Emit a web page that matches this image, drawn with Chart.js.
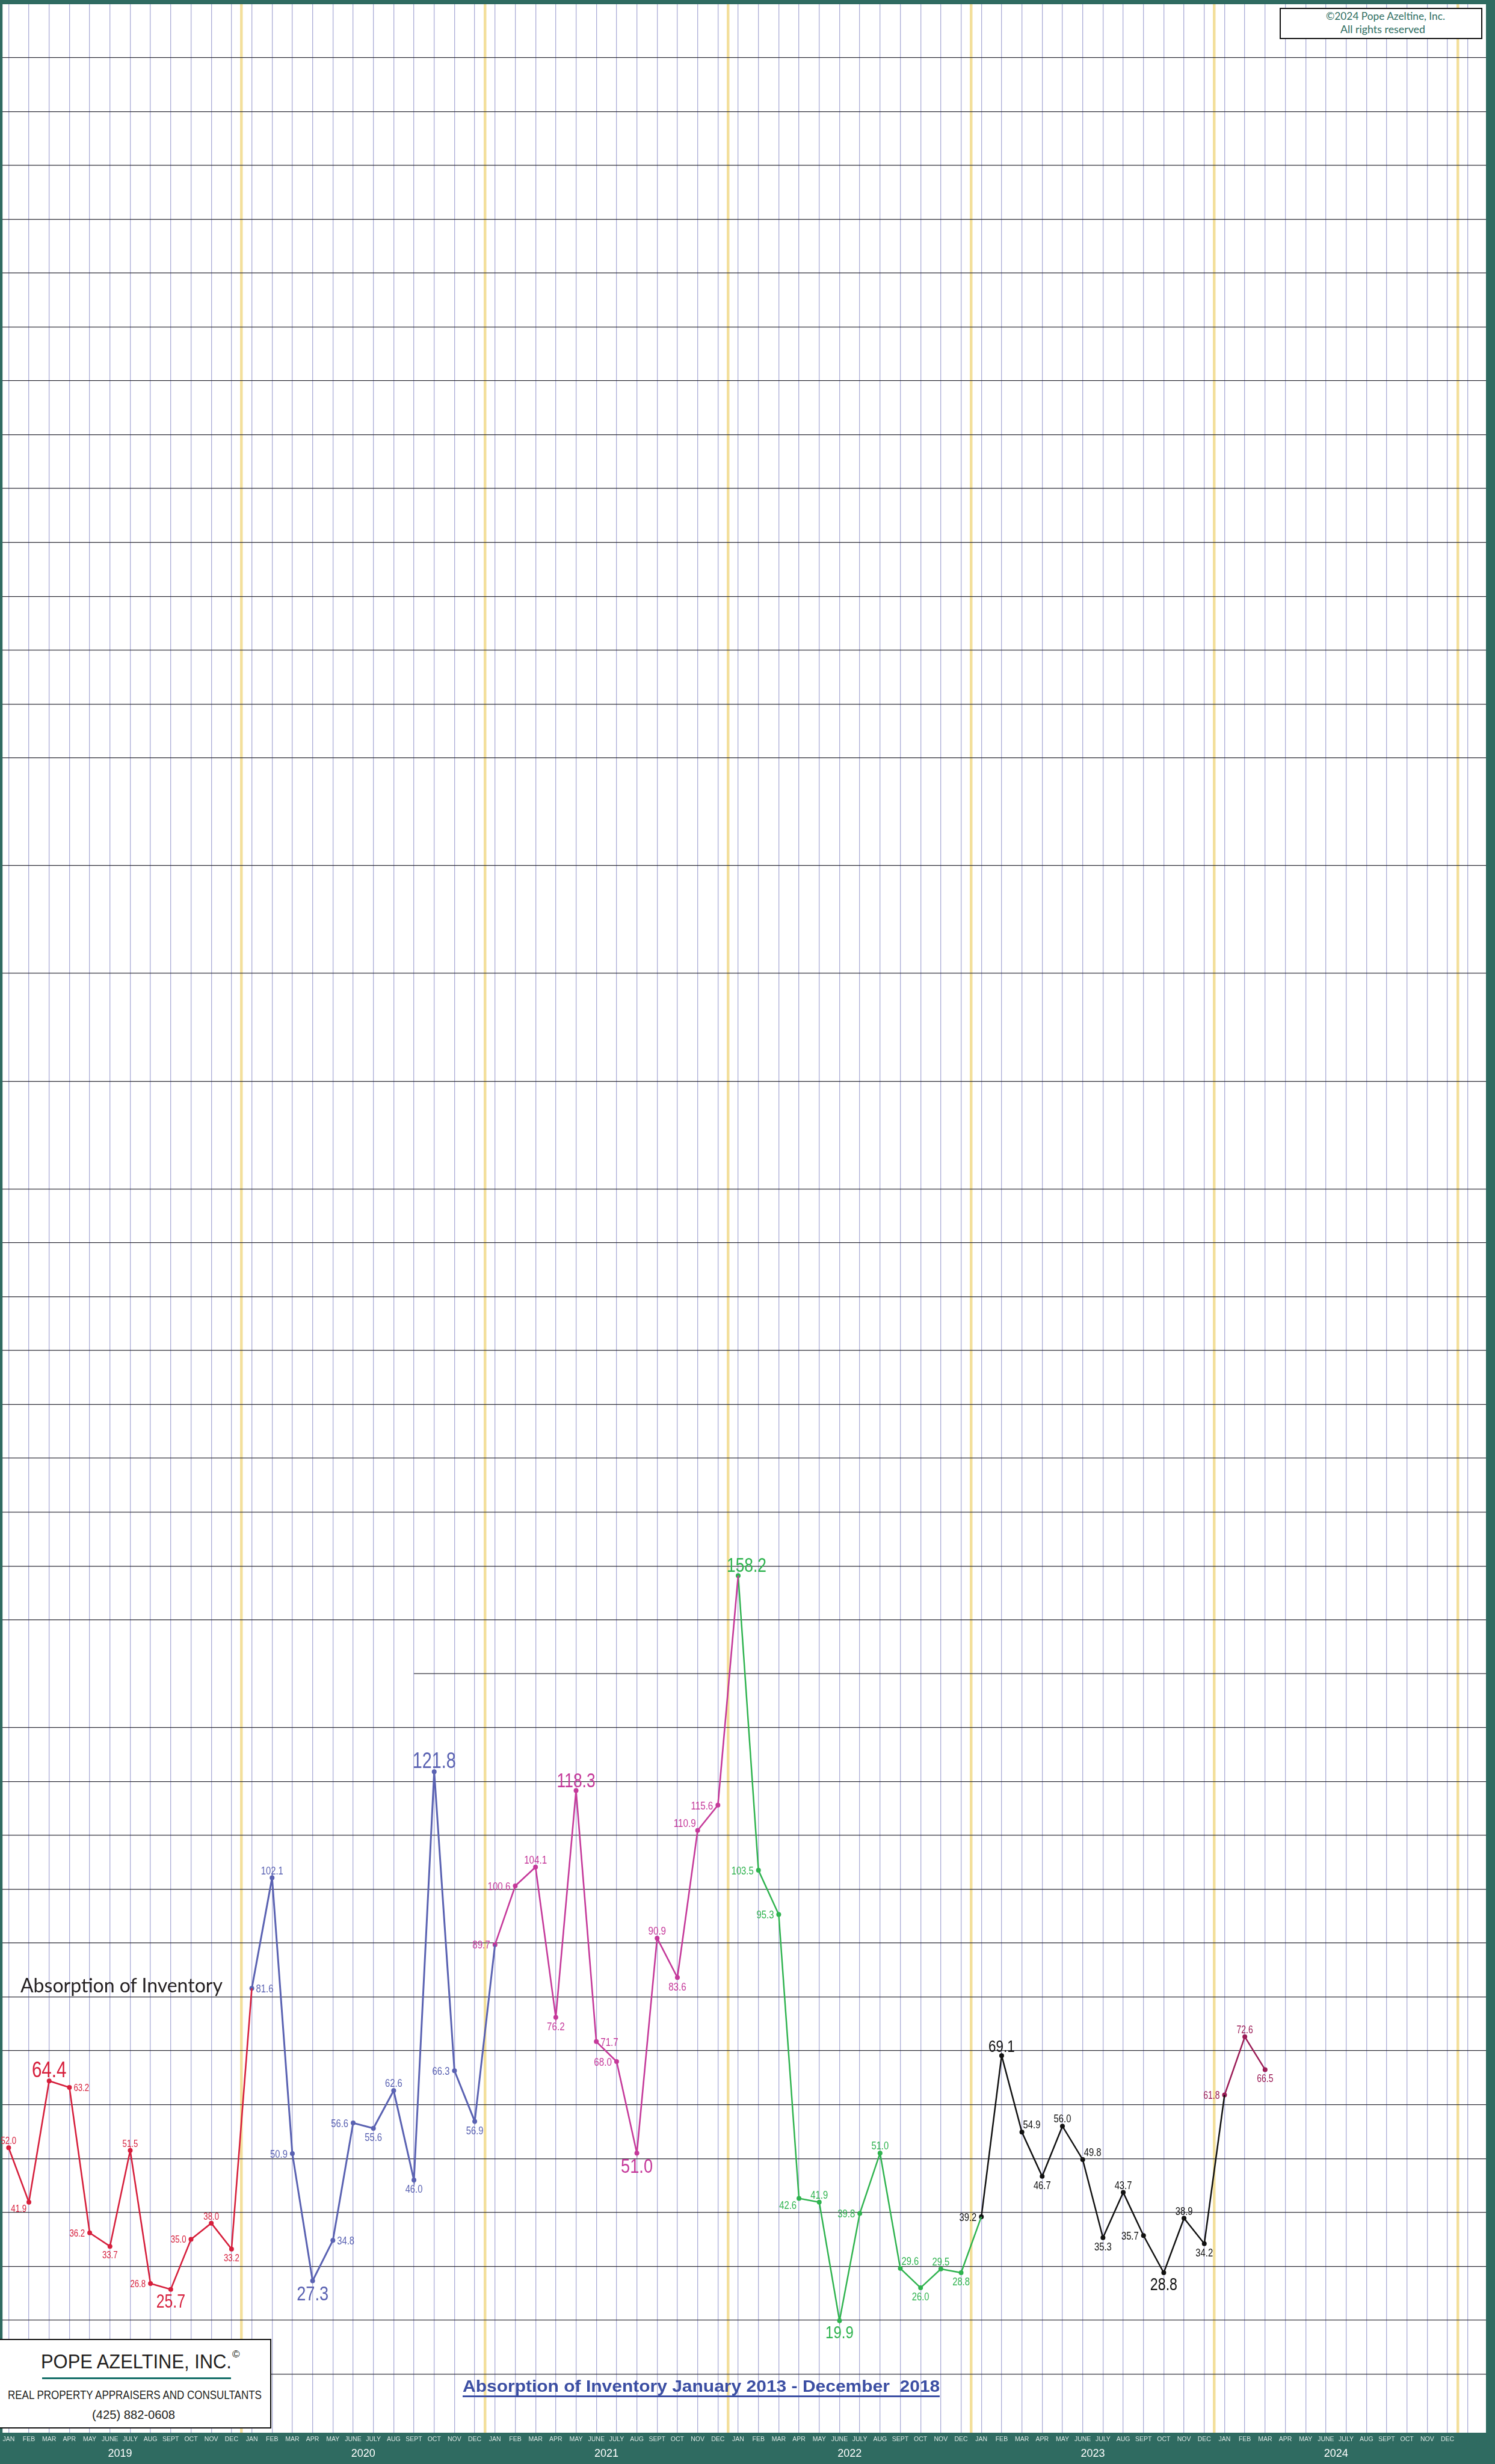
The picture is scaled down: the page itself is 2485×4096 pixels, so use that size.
<!DOCTYPE html>
<html>
<head>
<meta charset="utf-8">
<title>Absorption of Inventory</title>
<script src="https://cdn.jsdelivr.net/npm/chart.js@4.4.1/dist/chart.umd.min.js"></script>
<style>
  html, body { margin: 0; padding: 0; background: #2f6b61; }
  #wrap { position: relative; width: 2485px; height: 4096px; overflow: hidden; }
  #chart { position: absolute; left: 0; top: 0; background: #2f6b61; }
  .t { position: absolute; white-space: nowrap; line-height: 1; transform-origin: 0 0; }
  .narrow { font-family: "Liberation Sans Narrow", "Liberation Sans", Arial, sans-serif; }
  .lato { font-family: Lato, "Noto Sans", sans-serif; }
  #copyBox { position: absolute; left: 2127px; top: 13px; width: 337px; height: 52px;
             box-sizing: border-box; border: 2px solid #111; background: #fff; }
  #logoBox { position: absolute; left: -4px; top: 3888px; width: 455px; height: 149px;
             box-sizing: border-box; border: 2.5px solid #111; background: #fff; }
</style>
</head>
<body>
<div id="wrap">
  <canvas id="chart" width="2485" height="4096"></canvas>

  <div id="copyBox"></div>
  <div id="copy1" class="t lato" style="left:2204px; top:19.4px; font-size:16.5px; color:#2e6e62;">©2024 Pope Azeltine, Inc.</div>
  <div id="copy2" class="t lato" style="left:2228px; top:41.2px; font-size:16.5px; color:#2e6e62;">All rights reserved</div>

  <div id="sideLabel" class="t lato" style="left:34px; top:3283.6px; font-size:32px; color:#231f20;">Absorption of Inventory</div>

  <div id="title" class="t" style="left:769px; top:3953.3px; font-size:28px; font-weight:bold; color:#3c4fa3; font-family:'Liberation Sans', Arial, sans-serif;">Absorption of Inventory January 2013 - December&nbsp; 2018</div>
  <div style="position:absolute; left:769px; top:3981.5px; width:793px; height:3px; background:#3c4fa3;"></div>

  <div id="logoBox"></div>
  <div id="logoName" class="t narrow" style="left:68px; top:3908.6px; font-size:33.5px; color:#231f20;">POPE AZELTINE, INC.</div>
  <div class="t" style="left:386px; top:3904.6px; font-size:17px; color:#231f20; font-family:'Liberation Sans', sans-serif;">©</div>
  <div style="position:absolute; left:70px; top:3951.5px; width:314px; height:3px; background:#17706a;"></div>
  <div id="logoSub" class="t narrow" style="left:12.6px; top:3971.5px; font-size:19.5px; color:#231f20;">REAL PROPERTY APPRAISERS AND CONSULTANTS</div>
  <div id="logoPhone" class="t narrow" style="left:153px; top:4004.5px; font-size:19.5px; color:#231f20;">(425) 882-0608</div>
</div>

<script>
// months / years on the axis
const months = ["JAN", "FEB", "MAR", "APR", "MAY", "JUNE", "JULY", "AUG", "SEPT", "OCT", "NOV", "DEC"];
const years = ["2019", "2020", "2021", "2022", "2023", "2024"];

// absorption of inventory, by month
const abs2019 = [52.0, 41.9, 64.4, 63.2, 36.2, 33.7, 51.5, 26.8, 25.7, 35.0, 38.0, 33.2];
const abs2020 = [81.6, 102.1, 50.9, 27.3, 34.8, 56.6, 55.6, 62.6, 46.0, 121.8, 66.3, 56.9];
const abs2021 = [89.7, 100.6, 104.1, 76.2, 118.3, 71.7, 68.0, 51.0, 90.9, 83.6, 110.9, 115.6];
const abs2022 = [158.2, 103.5, 95.3, 42.6, 41.9, 19.9, 39.8, 51.0, 29.6, 26.0, 29.5, 28.8];
const abs2023 = [39.2, 69.1, 54.9, 46.7, 56.0, 49.8, 35.3, 43.7, 35.7, 28.8, 38.9, 34.2];
const abs2024 = [61.8, 72.6, 66.5];

const series = [abs2019, abs2020, abs2021, abs2022, abs2023, abs2024];

// where each value label sits relative to its point
const labelPos = [
    ['a', 'bl', 'a', 'r', 'l', 'b', 'a', 'l', 'b', 'l', 'a', 'b'],
    ['r', 'a', 'l', 'b', 'r', 'l', 'b', 'a', 'b', 'a', 'l', 'b'],
    ['l', 'l', 'a', 'b', 'a', 'r', 'l', 'b', 'a', 'b', 'al', 'l'],
    ['A', 'l', 'l', 'bl', 'a', 'b', 'l', 'a', 'ar', 'b', 'a', 'b'],
    ['l', 'a', 'ar', 'b', 'a', 'ar', 'b', 'a', 'l', 'b', 'a', 'b'],
    ['l', 'a', 'b']
];

// colours, line widths and label sizes per year: [small, big high, big low]
const yearColors = ["#d61f3c", "#5a62b2", "#c5399a", "#2fb34f", "#111111", "#9b1c56"];
const lineWidths = [2.6, 3, 2.6, 2.5, 2.5, 2.5];
const labelSizes = [[16.5, 37, 31], [18.5, 36, 34], [19, 33, 34], [18.5, 33, 30], [18.5, 28, 29], [17.5, 0, 0]];

const yHidden = [140, 240, 260, 280, 300];
const labelFont = '"Liberation Sans", Arial, sans-serif';

// one dataset per year, the line runs on to next January
const datasets = series.map((vals, k) => {
    const pts = vals.map((v, i) => ({ x: k * 12 + i, y: v }));
    const radius = vals.map(() => 4);
    if (series[k + 1]) {
        pts.push({ x: (k + 1) * 12, y: series[k + 1][0] });
        radius.push(0);
    }
    return {
        label: years[k],
        data: pts,
        xAxisID: 'x',
        borderColor: yearColors[k],
        backgroundColor: yearColors[k],
        pointBackgroundColor: yearColors[k],
        pointBorderWidth: 0,
        pointRadius: radius,
        borderWidth: lineWidths[k],
        tension: 0
    };
});

const xTicks = [];
for (let i = 0; i <= 72; i++) {
    xTicks.push(i);
    if (i % 12 === 11) xTicks.push(i + 0.5);
}
const yTicks = [];
for (let v = 10; v <= 440; v += 10) {
    if (!yHidden.includes(v)) yTicks.push(v);
}

const areaPlugin = {
    id: 'area',
    beforeDraw(chart) {
        const { ctx, chartArea: a } = chart;
        ctx.save();
        ctx.fillStyle = '#ffffff';
        ctx.fillRect(a.left, a.top, a.right - a.left, a.bottom - a.top);
        ctx.restore();
    },
    beforeDatasetsDraw(chart) {
        // the 140 line only runs from September 2020 on
        const { ctx, chartArea: a, scales } = chart;
        const y = scales.y.getPixelForValue(140);
        ctx.save();
        ctx.strokeStyle = '#30303a';
        ctx.lineWidth = 1.2;
        ctx.beginPath();
        ctx.moveTo(scales.x.getPixelForValue(20), y);
        ctx.lineTo(a.right, y);
        ctx.stroke();
        ctx.restore();
    }
};

// labels are set in a condensed face, so squeeze them sideways
function drawLabel(ctx, text, x, y, code, fs) {
    const asc = fs * 0.72;
    let tx = x, ty = y, align = 'center';
    switch (code) {
        case 'a': ty = y - 6; break;
        case 'A': tx = x + 14; ty = y - 6; break;
        case 'b': ty = y + 8 + asc; break;
        case 'l': align = 'right'; tx = x - 8; ty = y + asc / 2; break;
        case 'r': align = 'left'; tx = x + 7; ty = y + asc / 2; break;
        case 'al': align = 'right'; tx = x - 3; ty = y - 6; break;
        case 'ar': align = 'left'; tx = x + 2; ty = y - 6; break;
        case 'bl': align = 'right'; tx = x - 4; ty = y + 4 + asc; break;
    }
    ctx.save();
    ctx.translate(tx, ty);
    ctx.scale(0.8, 1);
    ctx.textAlign = align;
    ctx.textBaseline = 'alphabetic';
    ctx.fillText(text, 0, 0);
    ctx.restore();
}

const valueLabels = {
    id: 'valueLabels',
    afterDatasetsDraw(chart) {
        const ctx = chart.ctx;
        ctx.save();
        series.forEach((vals, k) => {
            const meta = chart.getDatasetMeta(k);
            const fullYear = vals.length === 12;
            const hi = Math.max(...vals), lo = Math.min(...vals);
            ctx.fillStyle = yearColors[k];
            vals.forEach((v, i) => {
                let fs = labelSizes[k][0];
                if (fullYear && v === hi) fs = labelSizes[k][1];
                else if (fullYear && v === lo) fs = labelSizes[k][2];
                ctx.font = fs + 'px ' + labelFont;
                const p = meta.data[i];
                drawLabel(ctx, v.toFixed(1), p.x, p.y, labelPos[k][i], fs);
            });
        });
        ctx.restore();
    }
};

new Chart(document.getElementById('chart'), {
    type: 'line',
    data: { datasets: datasets },
    options: {
        responsive: false,
        animation: false,
        devicePixelRatio: 1,
        layout: { padding: { top: 7, right: 15, left: 0, bottom: 0 } },
        plugins: { legend: { display: false }, tooltip: { enabled: false } },
        scales: {
            x: {
                type: 'linear',
                min: -0.3,
                max: 72.9,
                weight: 0,
                afterBuildTicks: (s) => { s.ticks = xTicks.map(v => ({ value: v })); },
                afterFit: (s) => { s.height = 22; },
                border: { display: false },
                grid: {
                    drawTicks: false,
                    tickLength: 0,
                    color: (c) => Number.isInteger(c.tick.value) ? '#aaacd6' : '#f3df9b',
                    lineWidth: (c) => Number.isInteger(c.tick.value) ? 1.3 : 4.5
                },
                ticks: {
                    autoSkip: false,
                    maxRotation: 0,
                    minRotation: 0,
                    padding: 4.4,
                    color: '#dbe7e3',
                    font: { family: labelFont, size: 10.5 },
                    callback: (v) => (Number.isInteger(v) && v < 72) ? months[v % 12] : ''
                }
            },
            x2: {
                type: 'linear',
                position: 'bottom',
                min: -0.3,
                max: 72.9,
                weight: 1,
                afterBuildTicks: (s) => { s.ticks = years.map((y, k) => ({ value: k * 12 + 5.5 })); },
                afterFit: (s) => { s.height = 30; },
                border: { display: false },
                grid: { display: false, drawTicks: false, tickLength: 0 },
                ticks: {
                    autoSkip: false,
                    maxRotation: 0,
                    minRotation: 0,
                    padding: 2,
                    color: '#ffffff',
                    font: { family: labelFont, size: 18 },
                    callback: (v, i) => years[i]
                }
            },
            y: {
                min: -0.9,
                max: 449.9,
                afterBuildTicks: (s) => { s.ticks = yTicks.map(v => ({ value: v })); },
                border: { display: false },
                grid: { drawTicks: false, tickLength: 0, color: '#30303a', lineWidth: 1.2 },
                ticks: { display: false }
            }
        }
    },
    plugins: [areaPlugin, valueLabels]
});

// squeeze the overlay texts to the widths they have on the original
const fits = [['copy1', 198], ['copy2', 141], ['sideLabel', 336], ['title', 793],
              ['logoName', 317], ['logoSub', 422], ['logoPhone', 138]];
fits.forEach(([id, w]) => {
    const el = document.getElementById(id);
    const cur = el.getBoundingClientRect().width;
    el.style.transform = 'scaleX(' + (w / cur).toFixed(3) + ')';
});
</script>
</body>
</html>
